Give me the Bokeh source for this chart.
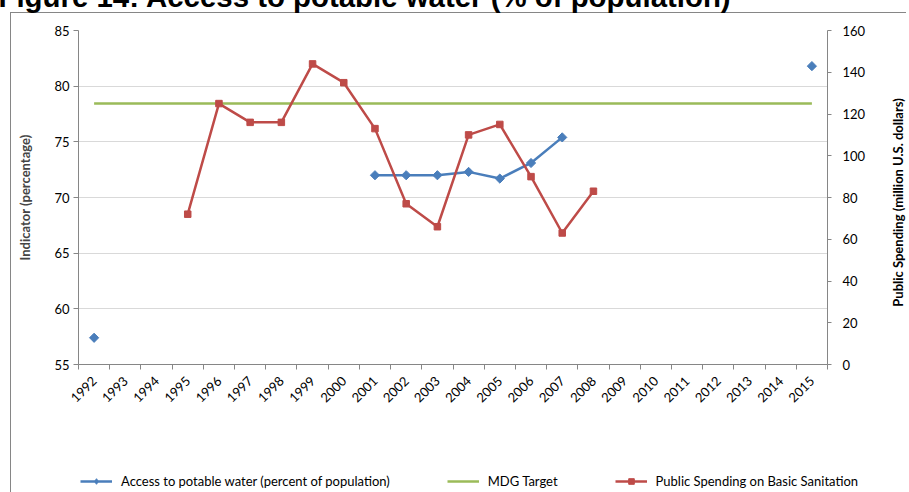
import math
import numpy as np
from bokeh.plotting import figure
from bokeh.layouts import column
from bokeh.models import (Range1d, LinearAxis, FixedTicker, Label, Legend,
                          LegendItem)
from bokeh.embed import file_html
from bokeh.resources import INLINE

nan = float("nan")

years = [str(y) for y in range(1992, 2016)]
access = [57.4, nan, nan, nan, nan, nan, nan, nan, nan,
          72.0, 72.0, 72.0, 72.3, 71.7, 73.1, 75.4,
          nan, nan, nan, nan, nan, nan, nan, 81.8]
mdg_target = [78.45] * 24
spending = [nan, nan, nan,
            72, 125, 116, 116, 144, 135, 113, 77, 66, 110, 115, 90, 63, 83,
            nan, nan, nan, nan, nan, nan, nan]
left_ticks = [55, 60, 65, 70, 75, 80, 85]
right_ticks = [0, 20, 40, 60, 80, 100, 120, 140, 160]

x = np.arange(len(years))
access_a = np.array(access, dtype=float)
mdg_a = np.array(mdg_target, dtype=float)
spend_a = np.array(spending, dtype=float)

BLUE = "#4A7EBB"
RED = "#BE4B48"
GREEN = "#9BBB59"
AXIS = "#868686"
FONT = "Lato"

# ---------------- main chart ----------------
p = figure(width=912, height=470, output_backend="svg", toolbar_location=None,
           x_range=Range1d(-0.5, len(years) - 0.5), y_range=Range1d(55, 85),
           min_border_left=81, min_border_right=79, min_border_top=50,
           min_border_bottom=86)
p.margin = (-20, 0, 0, -3)
p.outline_line_color = None
p.background_fill_color = "white"
p.border_fill_color = None
p.styles = {"background": (
    "linear-gradient(#868686,#868686) 13px 32px / 1px 1000px no-repeat, "
    "linear-gradient(#868686,#868686) 13px 32px / 2000px 1px no-repeat, "
    "#ffffff")}
if "frame_align" in p.properties():
    p.frame_align = False

p.extra_y_ranges = {"right": Range1d(0, 160)}

xa = p.xaxis[0]
xa.ticker = FixedTicker(ticks=list(range(len(years))),
                        minor_ticks=[i - 0.5 for i in range(len(years) + 1)])
xa.major_label_overrides = {i: y for i, y in enumerate(years)}
xa.major_label_orientation = math.pi / 4
xa.major_tick_out = 0
xa.major_tick_in = 0
xa.minor_tick_out = 5
xa.minor_tick_in = 0
xa.minor_tick_line_color = AXIS
xa.axis_line_color = AXIS
xa.major_label_text_font = FONT
xa.major_label_text_font_size = "13px"
xa.major_label_text_color = "black"
xa.major_label_standoff = 9

ya = p.yaxis[0]
ya.ticker = FixedTicker(ticks=left_ticks)
ya.axis_label = "Indicator (percentage)"
ya.axis_label_text_font = FONT
ya.axis_label_text_font_style = "bold"
ya.axis_label_text_font_size = "13px"
ya.axis_label_standoff = 18
ya.major_label_text_font = FONT
ya.major_label_text_font_size = "13px"
ya.major_label_text_color = "black"
ya.major_tick_out = 5
ya.major_tick_in = 0
ya.minor_tick_line_color = None
ya.major_tick_line_color = AXIS
ya.axis_line_color = AXIS
ya.major_label_standoff = 4

ra = LinearAxis(y_range_name="right", ticker=FixedTicker(ticks=right_ticks))
ra.major_label_text_font = FONT
ra.major_label_text_font_size = "13px"
ra.major_label_text_color = "black"
ra.major_tick_out = 4
ra.major_tick_in = 0
ra.minor_tick_line_color = None
ra.major_tick_line_color = AXIS
ra.axis_line_color = AXIS
ra.major_label_standoff = 11
p.add_layout(ra, "right")

p.xgrid.visible = False
p.ygrid.ticker = FixedTicker(ticks=left_ticks)
p.ygrid.grid_line_color = "#D9D9D9"
p.ygrid.grid_line_width = 1

p.line(x, mdg_a, color=GREEN, line_width=2.5)
p.line(x, access_a, color=BLUE, line_width=2.5)
p.scatter(x, access_a, marker="square", angle=math.pi / 4, size=6.5,
          color=BLUE)
p.line(x, spend_a, color=RED, line_width=2.5, y_range_name="right")
p.scatter(x, spend_a, marker="square", size=6.5, color=RED,
          y_range_name="right")

title = Label(x=-80, y=34, x_units="screen", y_units="screen",
              text="Figure 14: Access to potable water (% of population)",
              text_font="Liberation Sans", text_font_style="bold",
              text_font_size="29.4px", text_baseline="alphabetic",
              text_color="black")
p.add_layout(title, "above")

# ---------------- transparent overlay: right-axis title and legend ----------
# same series, drawn against ranges that keep them out of view, so that
# only their legend keys show
ov = figure(width=912, height=512, output_backend="svg", toolbar_location=None,
            x_axis_type=None, y_axis_type=None,
            x_range=Range1d(-300, -299), y_range=Range1d(-300, -299),
            min_border_left=0, min_border_right=0, min_border_top=0,
            min_border_bottom=0)
ov.margin = (-470, 0, 0, -3)
ov.outline_line_color = None
ov.background_fill_color = None
ov.border_fill_color = None
ov.styles = {"background": (
    "linear-gradient(#868686,#868686) 13px 32px / 1px 1000px no-repeat")}
if "frame_align" in ov.properties():
    ov.frame_align = False

lb_line = ov.line(x, access_a, color=BLUE, line_width=2.5)
lb_pts = ov.scatter(x, access_a, marker="diamond", size=10, color=BLUE)
lg_line = ov.line(x, mdg_a, color=GREEN, line_width=2.5)
lr_line = ov.line(x, spend_a, color=RED, line_width=2.5)
lr_pts = ov.scatter(x, spend_a, marker="square", size=6.5, color=RED)

legend = Legend(items=[
    LegendItem(label="Access to potable water (percent of population)",
               renderers=[lb_line, lb_pts]),
    LegendItem(label="MDG Target", renderers=[lg_line]),
    LegendItem(label="Public Spending on Basic Sanitation",
               renderers=[lr_line, lr_pts]),
], location=(83, 3), orientation="horizontal", padding=0, margin=0,
    spacing=57, glyph_width=32, glyph_height=14, label_standoff=9,
    border_line_alpha=0, background_fill_alpha=0,
    label_text_font=FONT, label_text_font_size="13px",
    label_text_color="black")
ov.add_layout(legend)

right_title = Label(x=900, y=290, x_units="screen", y_units="screen",
                    text="Public Spending (million U.S. dollars)",
                    angle=math.pi / 2, text_align="center",
                    text_baseline="middle", text_font=FONT,
                    text_font_style="bold", text_font_size="13px",
                    text_color="black")
ov.add_layout(right_title)

layout = column(p, ov, spacing=0)
open("out.html", "w").write(file_html(layout, INLINE))
